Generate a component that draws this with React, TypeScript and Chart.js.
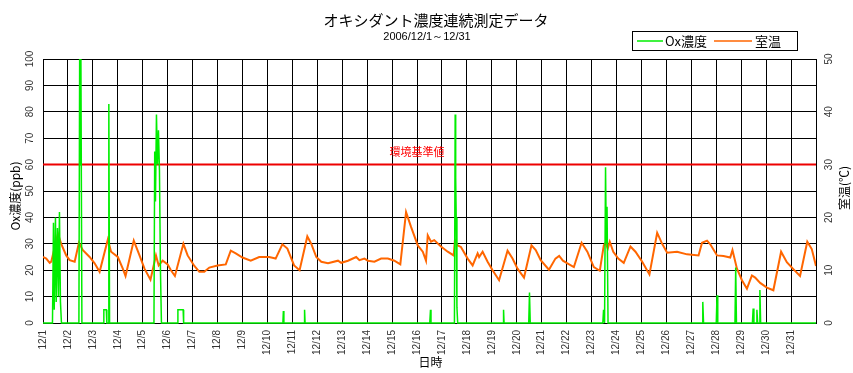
import React, { useEffect, useRef } from "react";
import { Chart, registerables } from "chart.js";

Chart.register(...registerables);

// ---- text ----
const titleText = "オキシダント濃度連続測定データ";
const subtitleText = "2006/12/1～12/31";
const oxLabel = "Ox濃度";
const tempLabel = "室温";
const leftAxisTitle = "Ox濃度(ppb)";
const rightAxisTitle = "室温(℃)";
const xAxisTitle = "日時";
const standardLabel = "環境基準値";

// ---- ticks ----
const dayTicks = [
  "12/1", "12/2", "12/3", "12/4", "12/5", "12/6", "12/7", "12/8", "12/9", "12/10",
  "12/11", "12/12", "12/13", "12/14", "12/15", "12/16", "12/17", "12/18", "12/19", "12/20",
  "12/21", "12/22", "12/23", "12/24", "12/25", "12/26", "12/27", "12/28", "12/29", "12/30", "12/31",
];
const leftTicks = [0, 10, 20, 30, 40, 50, 60, 70, 80, 90, 100];
const rightTicks = [0, 10, 20, 30, 40, 50];

// ---- environmental standard (ppb) ----
const standardValue = 60;
const standardDays = [0, 31];

// ---- Ox concentration (ppb), time in days since 12/1 00:00 ----
const oxDays = [
  0, 0.38, 0.42, 0.45, 0.5, 0.53, 0.58, 0.62, 0.66, 0.7, 0.74,
  1.44, 1.47, 1.5, 1.52, 1.56,
  2.42, 2.44, 2.54, 2.56, 2.62, 2.64, 2.67,
  4.45, 4.48, 4.51, 4.55, 4.59, 4.63, 4.67, 4.71, 4.75,
  5.39, 5.41, 5.62, 5.64,
  9.62, 9.64, 9.66,
  10.47, 10.49, 10.51,
  15.51, 15.54, 15.56,
  16.5, 16.53, 16.55, 16.57, 16.6, 16.63,
  18.45, 18.47, 18.49,
  19.48, 19.51, 19.54,
  22.45, 22.48, 22.52, 22.56, 22.59, 22.62, 22.66,
  26.43, 26.46, 26.49,
  27.0, 27.03, 27.06,
  27.75, 27.78, 27.81,
  28.45, 28.48, 28.51, 28.6, 28.63, 28.66, 28.72, 28.75, 28.78,
  31,
];
const oxValues = [
  0, 0, 38, 5, 40, 8, 36, 10, 42, 8, 0,
  0, 100, 60, 100, 0,
  0, 5, 5, 0, 0, 83, 0,
  0, 65, 46, 79, 60, 73, 58, 20, 0,
  0, 5, 5, 0,
  0, 4.5, 0,
  0, 5, 0,
  0, 5, 0,
  0, 79, 55, 40, 6, 0,
  0, 5, 0,
  0, 11.5, 0,
  0, 5, 0, 59, 30, 44, 0,
  0, 8, 0,
  0, 10.5, 0,
  0, 21, 0,
  0, 5.5, 0, 0, 5, 0, 0, 12.5, 0,
  0,
];

// ---- room temperature (°C), time in days since 12/1 00:00 ----
const tempDays = [
  0, 0.13, 0.27, 0.33, 0.6, 0.73, 0.93, 1.07, 1.27, 1.44, 1.6, 1.87, 2.07, 2.27,
  2.6, 2.73, 3.0, 3.2, 3.31, 3.64, 3.87, 4.07, 4.31, 4.53, 4.64, 4.8, 5.0, 5.13, 5.29,
  5.63, 5.8, 6.07, 6.27, 6.47, 6.67, 7.0, 7.33, 7.53, 7.73, 8.0, 8.33, 8.67, 9.07, 9.33,
  9.6, 9.8, 10.07, 10.29, 10.6, 10.76, 10.96, 11.16, 11.43, 11.83, 11.96, 12.23, 12.56,
  12.69, 12.89, 13.03, 13.29, 13.56, 13.83, 14.09, 14.33, 14.56, 14.76, 15.03, 15.23,
  15.36, 15.43, 15.56, 15.69, 15.96, 16.23, 16.47, 16.52, 16.63, 16.76, 17.03, 17.23,
  17.43, 17.49, 17.63, 17.83, 18.03, 18.29, 18.63, 18.83, 19.03, 19.29, 19.59, 19.76,
  19.96, 20.29, 20.55, 20.7, 20.85, 21.03, 21.29, 21.6, 21.83, 22.09, 22.33, 22.49,
  22.56, 22.65, 22.73, 22.87, 23.07, 23.29, 23.56, 23.76, 24.03, 24.32, 24.63, 24.83,
  25.03, 25.43, 25.83, 26.29, 26.43, 26.63, 26.76, 27.03, 27.29, 27.56, 27.65, 27.83,
  28.03, 28.23, 28.43, 28.56, 28.76, 29.03, 29.29, 29.6, 29.83, 30.09, 30.36, 30.65,
  30.83, 31.0,
];
const tempValues = [
  12.5, 12.2, 11.4, 11.6, 16.9, 15.0, 12.8, 11.9, 11.6, 15.2, 13.8, 12.5, 11.3, 9.7,
  15.8, 13.5, 12.5, 10.3, 8.9, 15.6, 12.8, 10.3, 8.2, 12.8, 10.9, 11.8, 11.1, 10.0, 8.9,
  15.0, 12.8, 10.8, 9.7, 9.7, 10.5, 10.9, 11.1, 13.7, 13.2, 12.4, 11.8, 12.5, 12.5, 12.2,
  14.9, 14.1, 10.9, 10.0, 16.4, 15.0, 12.5, 11.6, 11.3, 11.8, 11.4, 11.8, 12.5,
  11.9, 12.2, 11.8, 11.6, 12.2, 12.2, 11.8, 11.1, 21.0, 18.2, 14.7, 13.5,
  11.8, 16.6, 15.4, 15.7, 14.5, 13.5, 12.8, 15.7, 14.7, 14.4, 12.2, 10.9,
  13.2, 12.5, 13.5, 11.6, 10.0, 8.1, 13.7, 12.2, 10.3, 8.6, 14.7, 13.8,
  11.9, 10.1, 12.2, 12.7, 11.8, 11.3, 10.6, 15.2, 13.5, 10.6, 9.9, 14.7,
  15.2, 14.1, 15.4, 13.5, 12.2, 11.4, 14.5, 13.5, 11.6, 9.2, 17.1, 15.0,
  13.3, 13.5, 13.0, 12.8, 15.2, 15.6, 14.9, 12.8, 12.7, 12.4, 13.8, 10.3,
  8.1, 6.5, 9.0, 8.6, 7.6, 6.7, 6.2, 13.5, 11.5, 10.2, 8.9, 15.4,
  14.0, 10.8,
];

function pairs(xs: number[], ys: number[]) {
  return xs.map((x, i) => ({ x, y: ys[i] }));
}

const FONT_JP = '"Noto Sans CJK JP", "Noto Sans", sans-serif';
const FONT_NUM = '"Liberation Sans", Arial, sans-serif';

const overlayPlugin = {
  id: "overlay",
  afterDraw(chart: any) {
    const ctx: CanvasRenderingContext2D = chart.ctx;
    const sx = chart.scales.x;
    const sy = chart.scales.y;
    const sy2 = chart.scales.y2;
    const area = chart.chartArea;
    ctx.save();

    // Title + subtitle
    ctx.fillStyle = "#000";
    ctx.textAlign = "center";
    ctx.textBaseline = "middle";
    ctx.font = `15px ${FONT_JP}`;
    ctx.fillText(titleText, 436, 20);
    ctx.font = `11px ${FONT_NUM}`;
    ctx.fillText(subtitleText, 427, 37);

    // Legend box
    const lx = 632, ly = 31, lw = 165, lh = 19;
    ctx.fillStyle = "#fff";
    ctx.fillRect(lx, ly, lw, lh);
    ctx.strokeStyle = "#000";
    ctx.lineWidth = 1;
    ctx.strokeRect(lx + 0.5, ly + 0.5, lw, lh);
    const my = ly + lh / 2 + 0.5;
    ctx.lineWidth = 1.5;
    ctx.strokeStyle = "#00ee00";
    ctx.beginPath(); ctx.moveTo(637, my); ctx.lineTo(663, my); ctx.stroke();
    ctx.strokeStyle = "#ff6600";
    ctx.beginPath(); ctx.moveTo(714, my); ctx.lineTo(752, my); ctx.stroke();
    ctx.fillStyle = "#000";
    ctx.textAlign = "left";
    ctx.font = `13px ${FONT_JP}`;
    ctx.fillText(oxLabel, 665, my);
    ctx.fillText(tempLabel, 755, my);

    // Left tick labels (rotated)
    ctx.fillStyle = "#333";
    ctx.font = `10px ${FONT_NUM}`;
    ctx.textAlign = "center";
    ctx.textBaseline = "middle";
    leftTicks.forEach((v) => {
      const py = sy.getPixelForValue(v);
      ctx.save();
      ctx.translate(area.left - 13, py);
      ctx.rotate(-Math.PI / 2);
      ctx.fillText(String(v), 0, 0);
      ctx.restore();
    });
    rightTicks.forEach((v) => {
      const py = sy2.getPixelForValue(v);
      ctx.save();
      ctx.translate(area.right + 13, py);
      ctx.rotate(-Math.PI / 2);
      ctx.fillText(String(v), 0, 0);
      ctx.restore();
    });

    // X tick labels (rotated)
    ctx.textAlign = "right";
    dayTicks.forEach((t, i) => {
      const px = sx.getPixelForValue(i);
      ctx.save();
      ctx.translate(px, area.bottom + 7);
      ctx.rotate(-Math.PI / 2);
      ctx.fillText(t, 0, 0);
      ctx.restore();
    });

    // Axis titles
    ctx.fillStyle = "#000";
    ctx.textAlign = "center";
    ctx.font = `12px ${FONT_JP}`;
    ctx.save();
    ctx.translate(15, (area.top + area.bottom) / 2 + 5);
    ctx.rotate(-Math.PI / 2);
    ctx.fillText(leftAxisTitle, 0, 0);
    ctx.restore();
    ctx.save();
    ctx.translate(844, (area.top + area.bottom) / 2 - 3);
    ctx.rotate(-Math.PI / 2);
    ctx.fillText(rightAxisTitle, 0, 0);
    ctx.restore();
    ctx.fillText(xAxisTitle, (area.left + area.right) / 2 + 1, 362);

    // Standard label
    ctx.fillStyle = "#ff0000";
    ctx.font = `11px ${FONT_JP}`;
    ctx.fillText(standardLabel, sx.getPixelForValue(15), sy.getPixelForValue(standardValue) - 13);

    ctx.restore();
  },
};

export default function App() {
  const canvasRef = useRef<HTMLCanvasElement | null>(null);

  useEffect(() => {
    const canvas = canvasRef.current;
    if (!canvas) return;
    const chart = new Chart(canvas, {
      type: "line",
      data: {
        datasets: [
          {
            label: oxLabel,
            data: pairs(oxDays, oxValues),
            borderColor: "#00ee00",
            borderWidth: 1.5,
            pointRadius: 0,
            tension: 0,
            yAxisID: "y",
            order: 0,
            clip: { left: 0, top: 0, right: 0, bottom: 2 },
          } as any,
          {
            label: tempLabel,
            data: pairs(tempDays, tempValues),
            borderColor: "#ff6600",
            borderWidth: 2,
            pointRadius: 0,
            tension: 0,
            yAxisID: "y2",
            order: 1,
          },
          {
            label: standardLabel,
            data: pairs(standardDays, standardDays.map(() => standardValue)),
            borderColor: "#ee0000",
            borderWidth: 2,
            pointRadius: 0,
            yAxisID: "y",
            order: 2,
          },
        ],
      },
      options: {
        animation: false,
        responsive: false,
        maintainAspectRatio: false,
        devicePixelRatio: 1,
        layout: { padding: { left: 43, top: 59, right: 37, bottom: 50 } },
        plugins: {
          legend: { display: false },
          tooltip: { enabled: false },
          title: { display: false },
        },
        scales: {
          x: {
            type: "linear",
            min: 0,
            max: 31,
            ticks: { display: false, stepSize: 1 },
            grid: { color: "#000", lineWidth: 1, drawTicks: false },
            border: { color: "#000", width: 1 },
          },
          y: {
            type: "linear",
            position: "left",
            min: 0,
            max: 100,
            ticks: { display: false, stepSize: 10 },
            grid: { color: "#000", lineWidth: 1, drawTicks: false },
            border: { color: "#000", width: 1 },
          },
          y2: {
            type: "linear",
            position: "right",
            min: 0,
            max: 50,
            display: false,
          },
        },
      },
      plugins: [overlayPlugin],
    });
    return () => chart.destroy();
  }, []);

  return (
    <div style={{ position: "fixed", left: 0, top: 0, width: 853, height: 373, background: "#fff" }}>
      <canvas ref={canvasRef} width={853} height={373} style={{ width: 853, height: 373 }} />
    </div>
  );
}
